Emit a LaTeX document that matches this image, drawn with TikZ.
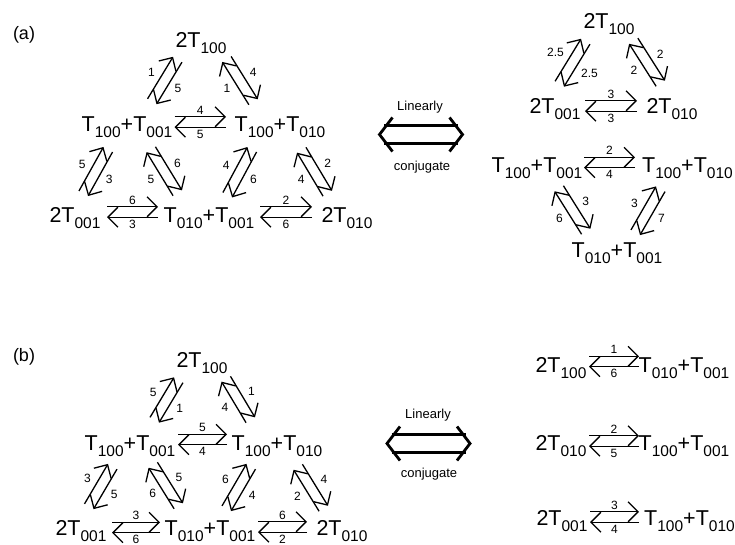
\documentclass[tikz,border=0pt]{standalone}
\usepackage{fontspec}
\setmainfont{Liberation Sans}
\usetikzlibrary{arrows.meta,calc}

\newcommand{\spfont}{\fontsize{21.5}{24}\selectfont}
\newcommand{\subfont}{\fontsize{15.5}{17}\selectfont}
\newcommand{\Tn}[1]{T\raisebox{-6.5pt}{\subfont #1}}

% two opposite arrows from #3 to #4, label #5 on the forward one, #6 on the backward one
\newcommand{\eqpair}[6][15.5pt]{%
  \coordinate (#2-p) at (#3);
  \coordinate (#2-q) at (#4);
  \coordinate (#2-m) at ($(#2-p)!0.5!(#2-q)$);
  \draw[fwd] ($(#2-p)!5.2pt!90:(#2-q)$) -- ($(#2-q)!5.2pt!-90:(#2-p)$);
  \draw[fwd] ($(#2-q)!5.2pt!90:(#2-p)$) -- ($(#2-p)!5.2pt!-90:(#2-q)$);
  \node[num] (#2-f) at ($(#2-m)!#1!90:(#2-q)$) {#5};
  \node[num] (#2-b) at ($(#2-m)!#1!-90:(#2-q)$) {#6};
}

% big double arrow round a centre coordinate
\newcommand{\dblarrow}[1]{%
  \draw[dbl] ([shift={(-37,-8.7)}]#1) -- ([shift={(37,-8.7)}]#1);
  \draw[dbl] ([shift={(-37,8.7)}]#1) -- ([shift={(37,8.7)}]#1);
  \draw[dbl] ([shift={(-28.5,-17)}]#1) -- ([shift={(-41.5,0)}]#1) -- ([shift={(-28.5,17)}]#1);
  \draw[dbl] ([shift={(28.5,-17)}]#1) -- ([shift={(41.5,0)}]#1) -- ([shift={(28.5,17)}]#1);
}

\begin{document}
\begin{tikzpicture}[x=1pt, y=-1pt,
    sp/.style={anchor=base, inner sep=0pt, font=\spfont},
    num/.style={inner sep=0pt, font=\fontsize{12}{14}\selectfont},
    word/.style={anchor=base, inner sep=0pt, font=\fontsize{13}{15}\selectfont},
    paneltag/.style={anchor=base, inner sep=0pt, font=\fontsize{18}{20}\selectfont},
    fwd/.style={line width=1.3pt, line cap=butt,
                -{Straight Barb[length=10pt, width=20pt, line width=1.3pt]}},
    dbl/.style={line width=2.8pt},
]
\useasboundingbox (0,0) rectangle (735,544);

% (a) full set of reactions
\node[paneltag] (a-tag) at (24,39.5) {(a)};
\node[sp] (a-top) at (201,47) {2\Tn{100}};
\node[sp] (a-ml) at (127,131) {\Tn{100}+\Tn{001}};
\node[sp] (a-mr) at (280,131) {\Tn{100}+\Tn{010}};
\node[sp] (a-bl) at (75,222) {2\Tn{001}};
\node[sp] (a-bm) at (209,222) {\Tn{010}+\Tn{001}};
\node[sp] (a-br) at (347,222) {2\Tn{010}};

\eqpair[12pt]{a-h1}{[shift={(47.5,-9)}]a-ml.base}{[shift={(-54,-9)}]a-mr.base}{4}{5}
\eqpair[12pt]{a-h2}{[shift={(32,-10)}]a-bl.base}{[shift={(-51,-10)}]a-bm.base}{6}{3}
\eqpair[12pt]{a-h3}{[shift={(51,-10)}]a-bm.base}{[shift={(-35,-10)}]a-br.base}{2}{6}
\eqpair{a-d1}{[shift={(25,-29.5)}]a-ml.base}{[shift={(-23.5,12.5)}]a-top.base}{1}{5}
\eqpair{a-d2}{[shift={(-26.7,-29)}]a-mr.base}{[shift={(25.7,12.2)}]a-top.base}{1}{4}
\eqpair{a-d3}{[shift={(8.5,-28.5)}]a-bl.base}{[shift={(-19,18.5)}]a-ml.base}{5}{3}
\eqpair{a-d4}{[shift={(-31.5,-29)}]a-bm.base}{[shift={(24,18.5)}]a-ml.base}{5}{6}
\eqpair{a-d5}{[shift={(18.5,-27)}]a-bm.base}{[shift={(-28,18.5)}]a-mr.base}{4}{6}
\eqpair{a-d6}{[shift={(-19.5,-28.5)}]a-br.base}{[shift={(21.5,19)}]a-mr.base}{4}{2}

\coordinate (a-eq) at (421,134.5);
\node[word] (a-lin) at (420,110) {Linearly};
\node[word] (a-conj) at (422,170.5) {conjugate};
\dblarrow{a-eq}

% (a) conjugate set
\node[sp] (ar-top) at (609,28) {2\Tn{100}};
\node[sp] (ar-ml) at (555,113) {2\Tn{001}};
\node[sp] (ar-mr) at (672,113) {2\Tn{010}};
\node[sp] (ar-l) at (537,172) {\Tn{100}+\Tn{001}};
\node[sp] (ar-r) at (687.5,172) {\Tn{100}+\Tn{010}};
\node[sp] (ar-bot) at (617,257) {\Tn{010}+\Tn{001}};

\eqpair[20pt]{ar-d1}{[shift={(4.5,-29)}]ar-ml.base}{[shift={(-23.5,13.5)}]ar-top.base}{2.5}{2.5}
\eqpair{ar-d2}{[shift={(-11.5,-29.5)}]ar-mr.base}{[shift={(24.5,13)}]ar-top.base}{2}{2}
\eqpair[12pt]{ar-h1}{[shift={(30,-7)}]ar-ml.base}{[shift={(-35,-7)}]ar-mr.base}{3}{3}
\eqpair[12pt]{ar-h2}{[shift={(47,-9.5)}]ar-l.base}{[shift={(-52.5,-9.5)}]ar-r.base}{2}{4}
\eqpair{ar-d3}{[shift={(-31,-25.5)}]ar-bot.base}{[shift={(22,16.5)}]ar-l.base}{6}{3}
\eqpair{ar-d4}{[shift={(18.5,-24.5)}]ar-bot.base}{[shift={(-27,17)}]ar-r.base}{3}{7}

% (b) full set of reactions
\node[paneltag] (b-tag) at (24,361) {(b)};
\node[sp] (b-top) at (202,367) {2\Tn{100}};
\node[sp] (b-ml) at (130,450) {\Tn{100}+\Tn{001}};
\node[sp] (b-mr) at (277,450) {\Tn{100}+\Tn{010}};
\node[sp] (b-bl) at (81,535) {2\Tn{001}};
\node[sp] (b-bm) at (210,535) {\Tn{010}+\Tn{001}};
\node[sp] (b-br) at (342,535) {2\Tn{010}};

\eqpair[12pt]{b-h1}{[shift={(48,-10.5)}]b-ml.base}{[shift={(-50,-10.5)}]b-mr.base}{5}{4}
\eqpair[12pt]{b-h2}{[shift={(31,-7.5)}]b-bl.base}{[shift={(-50,-7.5)}]b-bm.base}{3}{6}
\eqpair[12pt]{b-h3}{[shift={(48,-8)}]b-bm.base}{[shift={(-35,-8)}]b-br.base}{6}{2}
\eqpair{b-d1}{[shift={(24.5,-30)}]b-ml.base}{[shift={(-23.5,13)}]b-top.base}{5}{1}
\eqpair{b-d2}{[shift={(-26.5,-30)}]b-mr.base}{[shift={(24,12)}]b-top.base}{4}{1}
\eqpair{b-d3}{[shift={(8,-28.5)}]b-bl.base}{[shift={(-17.5,16.5)}]b-ml.base}{3}{5}
\eqpair{b-d4}{[shift={(-31.5,-29)}]b-bm.base}{[shift={(23,15)}]b-ml.base}{6}{5}
\eqpair{b-d5}{[shift={(16.5,-26.5)}]b-bm.base}{[shift={(-26,16.5)}]b-mr.base}{6}{4}
\eqpair{b-d6}{[shift={(-18.5,-26.5)}]b-br.base}{[shift={(21,17)}]b-mr.base}{2}{4}

\coordinate (b-eq) at (428.5,443.5);
\node[word] (b-lin) at (428,418.5) {Linearly};
\node[word] (b-conj) at (429,477.5) {conjugate};
\dblarrow{b-eq}

% (b) conjugate set
\node[sp] (br-l1) at (561,372) {2\Tn{100}};
\node[sp] (br-r1) at (684,372) {\Tn{010}+\Tn{001}};
\node[sp] (br-l2) at (561,450) {2\Tn{010}};
\node[sp] (br-r2) at (684,450) {\Tn{100}+\Tn{001}};
\node[sp] (br-l3) at (562,525) {2\Tn{001}};
\node[sp] (br-r3) at (689.5,525) {\Tn{100}+\Tn{010}};

\eqpair[12pt]{br-h1}{[shift={(28,-10.5)}]br-l1.base}{[shift={(-45,-10.5)}]br-r1.base}{1}{6}
\eqpair[12pt]{br-h2}{[shift={(28,-9)}]br-l2.base}{[shift={(-45,-9)}]br-r2.base}{2}{5}
\eqpair[12pt]{br-h3}{[shift={(28,-8)}]br-l3.base}{[shift={(-50.5,-8)}]br-r3.base}{3}{4}
\end{tikzpicture}
\end{document}
